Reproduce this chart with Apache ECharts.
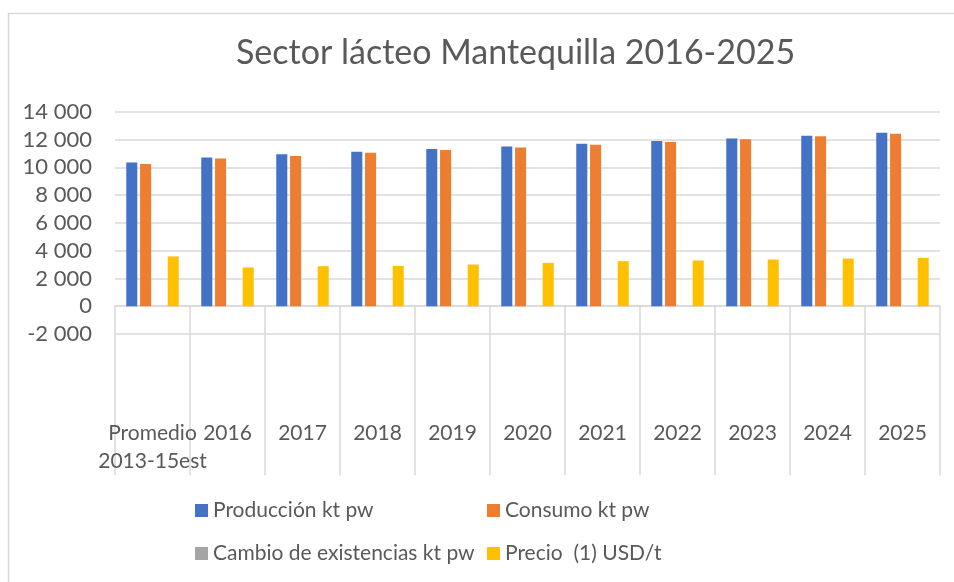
<!DOCTYPE html>
<html>
<head>
<meta charset="utf-8">
<title>Sector lácteo Mantequilla 2016-2025</title>
<script src="https://cdn.jsdelivr.net/npm/echarts@6/dist/echarts.min.js"></script>
<style>
  html, body { margin: 0; padding: 0; background: #fff; }
  #main { width: 954px; height: 582px; }
</style>
</head>
<body>
<div id="main"></div>
<script>
// datos
const categories = ["Promedio\n2013-15est", "2016", "2017", "2018", "2019", "2020", "2021", "2022", "2023", "2024", "2025"];
const produccion = [10350, 10710, 10930, 11120, 11310, 11500, 11690, 11890, 12080, 12270, 12480];
const consumo = [10230, 10640, 10810, 11050, 11240, 11430, 11620, 11820, 12010, 12230, 12410];
const cambioExistencias = [0, 0, 0, 0, 0, 0, 0, 0, 0, 0, 0];
const precio = [3580, 2790, 2880, 2900, 3000, 3120, 3240, 3290, 3360, 3430, 3480];
const yTicks = [-2000, 0, 2000, 4000, 6000, 8000, 10000, 12000, 14000];

const textColor = "#595959";
const font = "Lato";

const chart = echarts.init(document.getElementById("main"));

const fmt = v => {
  const s = String(Math.abs(v)).replace(/\B(?=(\d{3})+(?!\d))/g, " ");
  return (v < 0 ? "-" : "") + s;
};

const bar = (name, data, color) => ({
  name: name,
  type: "bar",
  data: data,
  barGap: "25%",
  barCategoryGap: "30%",
  itemStyle: { color: color },
  animation: false
});

const legendStyle = {
  orient: "vertical",
  top: 500,
  padding: 0,
  itemGap: 22,
  itemWidth: 13,
  itemHeight: 13,
  icon: "rect",
  textStyle: { fontFamily: font, fontSize: 21, color: textColor }
};

const option = {
  animation: false,
  title: {
    text: "Sector lácteo Mantequilla 2016-2025",
    left: 236,
    top: 36,
    padding: 0,
    textStyle: { fontFamily: font, fontSize: 34, fontWeight: "normal", color: textColor }
  },
  graphic: [{
    type: "rect",
    shape: { x: 8.5, y: 13.5, width: 1000, height: 700 },
    style: { fill: null, stroke: "#d9d9d9", lineWidth: 1.5 },
    silent: true
  }],
  legend: [
    Object.assign({ data: ["Producción kt pw", "Cambio de existencias kt pw"], left: 195 }, legendStyle),
    Object.assign({ data: ["Consumo kt pw", "Precio  (1) USD/t"], left: 487 }, legendStyle)
  ],
  grid: { left: 115, right: 14, top: 111.7, bottom: 248, containLabel: false },
  xAxis: {
    type: "category",
    data: categories,
    axisLine: { show: true, onZero: true, lineStyle: { color: "#d9d9d9", width: 1.5 } },
    axisTick: { show: true, length: 169, interval: 0, lineStyle: { color: "#d9d9d9", width: 1.5 } },
    axisLabel: {
      interval: 0,
      hideOverlap: false,
      margin: 85,
      fontFamily: font,
      fontSize: 21,
      lineHeight: 28,
      color: textColor
    }
  },
  yAxis: {
    type: "value",
    min: yTicks[0],
    max: yTicks[yTicks.length - 1],
    interval: 2000,
    axisLine: { show: false },
    axisTick: { show: false },
    splitLine: { lineStyle: { color: "#d9d9d9", width: 1.5 } },
    axisLabel: {
      margin: 23,
      fontFamily: font,
      fontSize: 22,
      color: textColor,
      formatter: fmt
    }
  },
  series: [
    bar("Producción kt pw", produccion, "#4472C4"),
    bar("Consumo kt pw", consumo, "#ED7D31"),
    bar("Cambio de existencias kt pw", cambioExistencias, "#A5A5A5"),
    bar("Precio  (1) USD/t", precio, "#FFC000")
  ]
};

option && chart.setOption(option);
</script>
</body>
</html>
